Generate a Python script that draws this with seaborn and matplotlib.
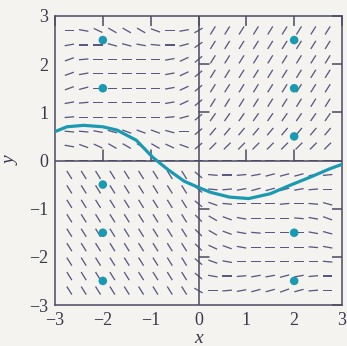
import numpy as np
import pandas as pd
import matplotlib
matplotlib.use("Agg")
import matplotlib.pyplot as plt
import seaborn as sns

# grid of the direction field
grid_x = [-2.7, -2.4, -2.1, -1.8, -1.5, -1.2, -0.9, -0.6, -0.3, 0.0,
          0.3, 0.6, 0.9, 1.2, 1.5, 1.8, 2.1, 2.4, 2.7]
grid_y = [2.7, 2.4, 2.1, 1.8, 1.5, 1.2, 0.9, 0.6, 0.3, 0.0,
          -0.3, -0.6, -0.9, -1.2, -1.5, -1.8, -2.1, -2.4, -2.7]

# segment angles (degrees), one row per grid_y value
LL = [-58] * 9
UR = [58] * 9
slope_angles = [
    [0, -10, -25, -30, -30, -30, -20, 0, 10, 30] + UR,
    [10, 0, 0, -15, -15, -10, -5, 0, 15, 35] + UR,
    [20, 5, 0, 0, 0, 0, 0, 10, 25, 40] + UR,
    [20, 10, 0, 0, 0, 0, 0, 10, 25, 40] + UR,
    [20, 15, 0, 0, 0, 0, 0, 10, 25, 40] + UR,
    [10, 5, 0, 0, 0, 0, 0, 10, 25, 40] + UR,
    [5, 0, 0, 0, 0, 0, 0, 5, 15, 40] + [55] * 9,
    [-5, -5, -10, -15, -20, -20, -20, -15, 0, 40] + [50] * 9,
    [-10, -20, -25, -30, -30, -30, -30, -25, -20, 40] + [45] * 9,
    [0] * 19,
    LL + [-40, -5, 0, 5, 10, 15, 15, 15, 10, 5],
    LL + [-40, -5, 5, 10, 15, 15, 15, 10, 5, 0],
    LL + [-40, -20, -5, 0, 0, 0, 5, 0, -5, -15],
    LL + [-45, -30, -20, -10, 0, 0, 0, -5, -10, -20],
    LL + [-45, -30, -20, -10, -5, 0, 0, 0, -10, -15],
    LL + [-45, -25, -20, -10, 0, 0, 0, 0, -5, -10],
    LL + [-40, -20, -10, 0, 0, 0, 0, 0, 0, -5],
    LL + [-40, -10, 0, 5, 10, 10, 15, 10, 5, 0],
    LL + [-30, 0, 5, 10, 15, 15, 20, 15, 5, 0],
]

# solution curve
curve_x = [-3.0, -2.75, -2.4, -2.0, -1.7, -1.3, -0.95, -0.65, -0.3, 0.0,
           0.25, 0.65, 1.05, 1.5, 1.9, 2.35, 2.75, 3.0]
curve_y = [0.6, 0.7, 0.73, 0.7, 0.63, 0.42, 0.06, -0.18, -0.43, -0.56,
           -0.66, -0.76, -0.79, -0.69, -0.52, -0.34, -0.17, -0.08]

# initial condition dots
dot_x = [-2, -2, -2, -2, -2, 2, 2, 2, 2, 2]
dot_y = [2.5, 1.5, -0.5, -1.5, -2.5, 2.5, 1.5, 0.5, -1.5, -2.5]

ticks = [-3, -2, -1, 0, 1, 2, 3]

sns.set_style("white")
plt.rcParams["font.family"] = ["Liberation Serif", "DejaVu Serif"]

ink = "#4a4a62"
teal = "#1a9ab2"
paper = "#f4f3f0"

fig = plt.figure(figsize=(3.47, 3.46), dpi=100, facecolor=paper)
ax = fig.add_axes([55 / 347, 41 / 346, 287 / 347, 289 / 346])
ax.set_facecolor(paper)

# direction field
X, Y = np.meshgrid(grid_x, grid_y)
ang = np.radians(np.array(slope_angles, dtype=float))
ax.quiver(X, Y, np.cos(ang), np.sin(ang), angles="uv", pivot="mid",
          scale_units="inches", scale=10.5, width=0.0045,
          headwidth=0, headlength=0, headaxislength=0, color="#585880", zorder=2)

# center axes with their own ticks
ax.axhline(0, color=ink, lw=1.1, zorder=3)
ax.axvline(0, color=ink, lw=1.1, zorder=3)
for t in [-2, -1, 1, 2]:
    ax.plot([t, t], [0, 0.21], color=ink, lw=1.1, zorder=3)
    ax.plot([0, 0.21], [t, t], color=ink, lw=1.1, zorder=3)

curve = pd.DataFrame({"x": curve_x, "y": curve_y})
sns.lineplot(data=curve, x="x", y="y", sort=False, color=teal, lw=2.3, ax=ax, zorder=4)

dots = pd.DataFrame({"x": dot_x, "y": dot_y})
sns.scatterplot(data=dots, x="x", y="y", color=teal, s=38, edgecolor="none", ax=ax, zorder=5)

ax.set_xlim(-3, 3)
ax.set_ylim(-3, 3)
ax.set_xticks(ticks)
ax.set_yticks(ticks)
ax.tick_params(direction="in", length=7, width=1.1, color=ink, top=True, right=True,
               labelsize=13, labelcolor="#3a3a4a", pad=5)
for s in ax.spines.values():
    s.set_color(ink)
    s.set_linewidth(1.1)

ax.set_xlabel("x", fontsize=14, style="italic", color="#3a3a4a")
ax.set_ylabel("y", fontsize=14, style="italic", color="#3a3a4a")
ax.xaxis.set_label_coords(0.5, -0.085)
ax.yaxis.set_label_coords(-0.125, 0.5)

fig.savefig("out.png", dpi=100, facecolor=paper)
